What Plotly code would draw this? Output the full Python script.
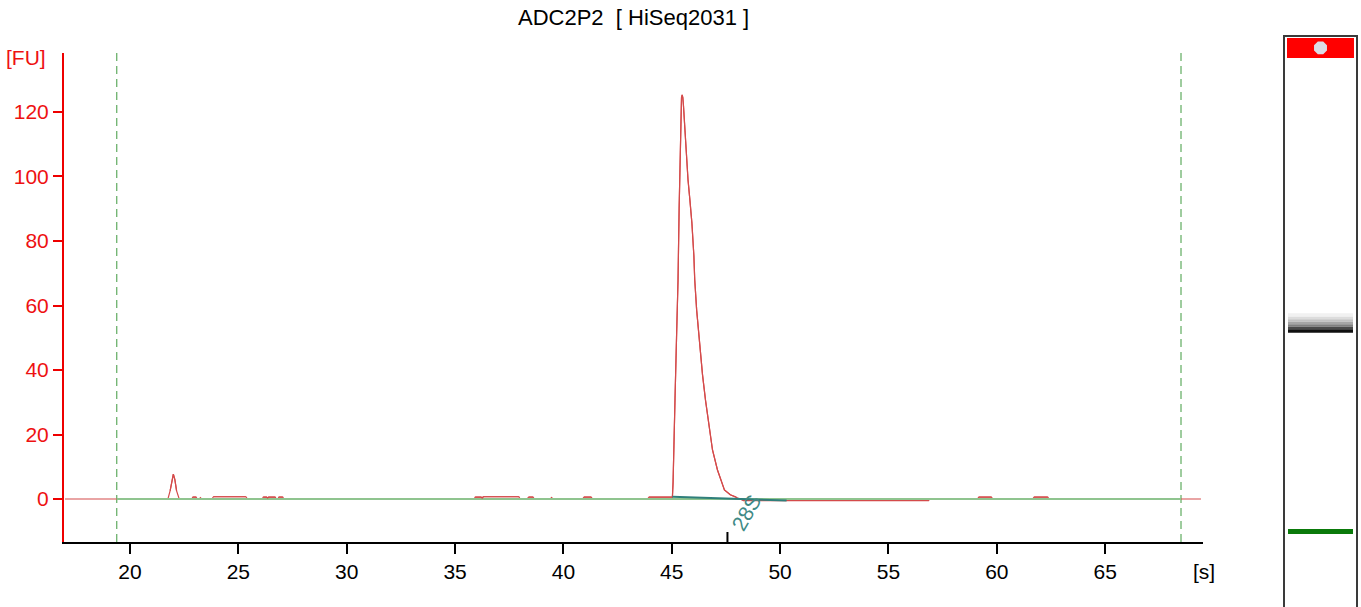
import plotly.graph_objects as go

# ---------------- data ----------------
title_text = "ADC2P2\u00a0\u00a0[ HiSeq2031 ]"

# electropherogram (time in s, fluorescence in FU)
time_s = [17.0,
          21.75, 21.85, 21.93, 22.0, 22.07, 22.15, 22.27,
          22.85, 22.9, 23.05, 23.1,
          23.2, 23.25, 23.3,
          23.78, 23.85, 25.35, 25.42,
          26.1, 26.15, 26.3, 26.35, 26.4, 26.7, 26.75,
          26.82, 26.87, 27.05, 27.1,
          35.88, 35.93, 36.2, 36.25, 36.3, 37.95, 38.0,
          38.32, 38.4, 38.6, 38.66,
          39.42, 39.45, 39.5,
          40.88, 40.95, 41.28, 41.35,
          43.88, 43.95, 45.03,
          45.06, 45.1, 45.15, 45.22, 45.29, 45.34, 45.38, 45.42, 45.45, 45.48, 45.51,
          45.54, 45.60, 45.66, 45.75, 45.84, 45.93, 46.02, 46.06, 46.15, 46.29,
          46.42, 46.56, 46.74, 46.88, 47.11, 47.43, 47.70, 47.98, 48.15,
          48.3, 56.85, 56.9,
          59.1, 59.17, 59.75, 59.82,
          61.65, 61.72, 62.35, 62.42,
          69.42]
fluor_fu = [0,
            0, 2.5, 6.0, 7.7, 6.0, 2.5, 0,
            0, 0.6, 0.6, 0,
            0, 0.4, 0,
            0, 0.7, 0.7, 0,
            0, 0.6, 0.6, 0.3, 0.6, 0.6, 0,
            0, 0.6, 0.6, 0,
            0, 0.6, 0.6, 0.3, 0.7, 0.7, 0,
            0, 0.6, 0.6, 0,
            0, 0.6, 0,
            0, 0.6, 0.6, 0,
            0, 0.6, 0.6,
            5, 20, 31, 50, 68, 90, 108, 120, 124.5, 125.3, 124.5,
            122, 115, 109, 99, 92.5, 85.5, 75.5, 68, 58.5, 48,
            38.5, 30.5, 21.5, 15.2, 9.0, 2.8, 1.3, 0.6, 0,
            -0.5, -0.5, 0,
            0, 0.6, 0.6, 0,
            0, 0.6, 0.6, 0,
            0]

window_start = 19.39
window_end = 68.50

peak_label = "28S"
peak_time = 47.57
peak_base_x = [45.03, 50.30]
peak_base_y = [0.7, -0.5]

x_ticks = [20, 25, 30, 35, 40, 45, 50, 55, 60, 65]
y_ticks = [0, 20, 40, 60, 80, 100, 120]

# gel lane (positions in migration time, s)
gel_band_top = [47.45, 47.06, 46.75, 46.47, 46.17, 45.89, 45.58]
gel_band_bottom = [47.06, 46.75, 46.47, 46.17, 45.89, 45.58, 45.18]
gel_band_colors = ["#f1f1f1", "#dcdcdc", "#c3c3c3", "#a6a6a6", "#808080", "#4a4a4a", "#101010"]
marker_band = [21.65, 22.23]
upper_band = [77.31, 79.65]
upper_marker_time = 78.5

# ---------------- figure ----------------
W, H = 1361, 607
ML, MR, MT, MB = 64, 0, 30, 0
PW, PH = W - ML - MR, H - MT - MB


def px_x(p):
    return (p - ML) / PW


def px_y(p):
    return (H - MB - p) / PH


FONT = "Liberation Sans"
RED_TRACE = "#d44a4a"
GREEN_BASE = "#8fc48f"
TEAL = "#2f7f7b"

fig = go.Figure()

fig.add_trace(go.Scatter(x=time_s, y=fluor_fu, mode="lines",
                         line=dict(color=RED_TRACE, width=1.2),
                         xaxis="x", yaxis="y", showlegend=False, hoverinfo="skip"))
fig.add_trace(go.Scatter(x=[window_start, window_end], y=[0, 0], mode="lines",
                         line=dict(color=GREEN_BASE, width=2),
                         xaxis="x", yaxis="y", showlegend=False, hoverinfo="skip"))
# re-draw bumps above the green baseline
fig.add_trace(go.Scatter(x=time_s, y=[v if v > 0.2 else None for v in fluor_fu], mode="lines",
                         line=dict(color=RED_TRACE, width=1.2), connectgaps=False,
                         xaxis="x", yaxis="y", showlegend=False, hoverinfo="skip"))
fig.add_trace(go.Scatter(x=peak_base_x, y=peak_base_y, mode="lines",
                         line=dict(color=TEAL, width=2),
                         xaxis="x", yaxis="y", showlegend=False, hoverinfo="skip"))

shapes = []
for wx in (window_start, window_end):
    shapes.append(dict(type="line", xref="x", yref="y domain", x0=wx, x1=wx, y0=0, y1=1,
                       line=dict(color="#3f9a3f", width=1, dash="8px,5px"), layer="below"))
# peak marker tick on the x axis
shapes.append(dict(type="line", xref="x", yref="y domain", x0=peak_time, x1=peak_time,
                   y0=0, y1=10 / 489, line=dict(color="black", width=2)))

# gel lane
gel_x0, gel_x1 = 0.026, 0.974
band_x0, band_x1 = 0.078, 0.922
shapes.append(dict(type="rect", xref="x2", yref="y2", x0=gel_x0, x1=gel_x1, y0=12.5, y1=79.89,
                   fillcolor="white", line=dict(color="#3a3a3a", width=2), layer="below"))
shapes.append(dict(type="rect", xref="x2", yref="y2", x0=0.065, x1=0.935,
                   y0=upper_band[0], y1=upper_band[1], fillcolor="#ff0000",
                   line=dict(width=0), layer="below"))
for t, b, c in zip(gel_band_top, gel_band_bottom, gel_band_colors):
    shapes.append(dict(type="rect", xref="x2", yref="y2", x0=band_x0, x1=band_x1,
                       y0=b, y1=t, fillcolor=c, line=dict(width=0)))
shapes.append(dict(type="rect", xref="x2", yref="y2", x0=band_x0, x1=band_x1,
                   y0=marker_band[0], y1=marker_band[1], fillcolor="#0a7a0a", line=dict(width=0)))

fig.add_trace(go.Scatter(x=[0.5], y=[upper_marker_time], mode="markers",
                         marker=dict(symbol="octagon", size=14, color="#dcdce6",
                                     line=dict(width=0)),
                         xaxis="x2", yaxis="y2", showlegend=False, hoverinfo="skip"))

annotations = [
    dict(text=title_text, xref="x domain", yref="paper", x=0.5, y=px_y(18),
         xanchor="center", yanchor="middle", showarrow=False,
         font=dict(family=FONT, size=22, color="black")),
    dict(text="[FU]", xref="paper", yref="paper", x=px_x(48), y=px_y(57),
         xanchor="right", yanchor="middle", showarrow=False,
         font=dict(family=FONT, size=21, color="#ee1111")),
    dict(text="[s]", xref="paper", yref="paper", x=px_x(1204), y=px_y(571),
         xanchor="center", yanchor="middle", showarrow=False,
         font=dict(family=FONT, size=21, color="black")),
    dict(text=peak_label, xref="x", yref="y", x=peak_time + 0.88, y=-4.3,
         xanchor="center", yanchor="middle", textangle=-60, showarrow=False,
         font=dict(family=FONT, size=21, color="#3f8a86")),
]

fig.update_layout(
    width=W, height=H,
    margin=dict(l=ML, r=MR, t=MT, b=MB),
    paper_bgcolor="white", plot_bgcolor="white",
    showlegend=False,
    shapes=shapes, annotations=annotations,
    xaxis=dict(domain=[0, px_x(1203)], range=[16.954, 69.515], anchor="y",
               showline=True, linecolor="black", linewidth=2, mirror=False,
               ticks="outside", ticklen=10, tickwidth=2, tickcolor="black",
               tickvals=x_ticks, ticktext=[str(v) for v in x_ticks],
               showgrid=False, zeroline=False,
               tickfont=dict(family=FONT, size=21, color="black")),
    yaxis=dict(domain=[px_y(542), px_y(53)], range=[-13.33, 138.29], anchor="x",
               showline=True, linecolor="#ee0000", linewidth=2,
               ticks="outside", ticklen=9, tickwidth=2, tickcolor="#ee0000",
               tickvals=y_ticks, ticktext=[str(v) for v in y_ticks],
               showgrid=False, zeroline=False,
               tickfont=dict(family=FONT, size=21, color="#ee1111")),
    xaxis2=dict(domain=[px_x(1282), px_x(1359)], range=[0, 1], anchor="y2",
                visible=False, fixedrange=True),
    yaxis2=dict(domain=[0, 1], range=[13.11, 80.59], anchor="x2",
                visible=False, fixedrange=True),
)

fig.write_html("out.html", config={"displayModeBar": False},
               post_script="document.body.style.margin='0';document.body.style.overflow='hidden';")
